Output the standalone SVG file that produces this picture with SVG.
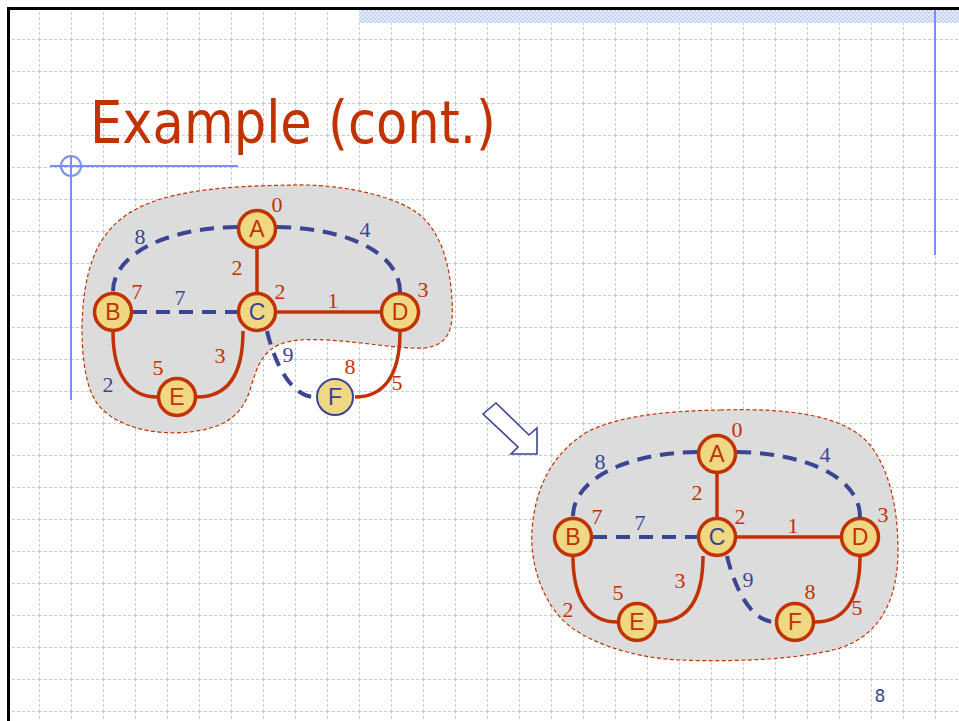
<svg xmlns="http://www.w3.org/2000/svg" width="959" height="721" viewBox="0 0 959 721">
<defs>
<style>
.grid{stroke:#BCCAF4;stroke-width:1;stroke-dasharray:3 2;fill:none}
.deco{stroke:#7A8FF0;stroke-width:2;fill:none}
.blob{fill:#DCDCDC;stroke:#C23200;stroke-width:1.2;stroke-dasharray:4 2.5}
.tree{stroke:#C23200;stroke-width:3.5;fill:none}
.non{stroke:#3B4594;stroke-width:4;fill:none;stroke-dasharray:14 9}
.nd{fill:#EFD784;stroke:#C23200;stroke-width:3.5}
.ndb{fill:#EFD784;stroke:#3B4594;stroke-width:2}
.lbl{font-family:"Liberation Sans","DejaVu Sans",sans-serif;font-size:23px;text-anchor:middle}
.w{font-family:"Liberation Serif","DejaVu Serif",serif;font-size:22px;text-anchor:middle}
.r{fill:#C23200}
.b{fill:#3B4594}
</style>
<pattern id="gridp" patternUnits="userSpaceOnUse" x="7" y="7" width="32" height="32">
<line class="grid" x1="0" y1="0.5" x2="32" y2="0.5"/>
<line class="grid" x1="0.5" y1="0" x2="0.5" y2="32"/>
</pattern>
<pattern id="chk" patternUnits="userSpaceOnUse" width="4" height="4">
<rect width="4" height="4" fill="#E6ECFC"/>
<rect width="2" height="2" fill="#C6D2F6"/>
<rect x="2" y="2" width="2" height="2" fill="#C6D2F6"/>
</pattern>
</defs>
<rect width="959" height="721" fill="#FFFFFF"/>
<rect x="8" y="8" width="951" height="713" fill="url(#gridp)"/>
<rect x="359" y="10" width="600" height="13" fill="url(#chk)"/>
<g id="frame">
<line x1="7" y1="8.5" x2="959" y2="8.5" stroke="#000" stroke-width="3"/>
<line x1="8.5" y1="7" x2="8.5" y2="721" stroke="#000" stroke-width="3"/>
</g>
<g id="decoration">
<line class="deco" x1="935" y1="10" x2="935" y2="255"/>
<line class="deco" x1="50" y1="166" x2="238" y2="166" stroke-width="1.5"/>
<circle class="deco" cx="71" cy="166" r="10" stroke-width="1.5"/>
<line class="deco" x1="71" y1="156" x2="71" y2="400"/>
</g>
<text id="title" x="90" y="143" font-family="DejaVu Sans, sans-serif" font-size="59" fill="#C23200" textLength="406" lengthAdjust="spacingAndGlyphs">Example (cont.)</text>

<!-- Graph 1 -->
<g id="graph1">
<path id="blob1" class="blob" d="M 293,185 C 340,184 395,195 420,215 C 440,232 450,262 452,300 C 454,330 448,345 425,348 C 395,350 340,337 300,340 C 262,343 258,365 250,390 C 242,415 225,428 190,432 C 150,436 110,425 95,400 C 80,375 80,320 85,290 C 92,245 110,222 140,207 C 180,188 240,186 293,185 Z"/>
<g id="g1-edges">
<path class="non" d="M 237,227 C 170,228 113,252 113,292"/>
<path class="non" d="M 277,227 C 345,228 400,252 400,292"/>
<path class="non" d="M 133,312 L 237,312"/>
<path class="non" d="M 267,331 C 275,365 292,397 315,397"/>
<path class="tree" d="M 257,249 L 257,292"/>
<path class="tree" d="M 277,312 L 380,312"/>
<path class="tree" d="M 113,332 C 113,378 132,397 157,397"/>
<path class="tree" d="M 243,331 C 243,378 225,397 197,397"/>
<path class="tree" d="M 400,332 C 400,378 382,397 355,397"/>
</g>
<g id="g1-A"><circle class="nd" cx="257" cy="229" r="18.5"/><text class="lbl r" x="257" y="237">A</text></g>
<g id="g1-B"><circle class="nd" cx="113" cy="312" r="18.5"/><text class="lbl r" x="113" y="320">B</text></g>
<g id="g1-C"><circle class="nd" cx="257" cy="312" r="18.5"/><text class="lbl b" x="257" y="320">C</text></g>
<g id="g1-D"><circle class="nd" cx="400" cy="312" r="18.5"/><text class="lbl r" x="400" y="320">D</text></g>
<g id="g1-E"><circle class="nd" cx="177" cy="397" r="18.5"/><text class="lbl r" x="177" y="405">E</text></g>
<g id="g1-F"><circle class="ndb" cx="335" cy="397" r="18"/><text class="lbl b" x="335" y="405">F</text></g>
<g id="g1-labels">
<text class="w r" x="277" y="212">0</text>
<text class="w b" x="140" y="244">8</text>
<text class="w b" x="365" y="237">4</text>
<text class="w r" x="237" y="275">2</text>
<text class="w r" x="137" y="299">7</text>
<text class="w b" x="180" y="305">7</text>
<text class="w r" x="280" y="299">2</text>
<text class="w r" x="333" y="308">1</text>
<text class="w r" x="423" y="297">3</text>
<text class="w b" x="288" y="362">9</text>
<text class="w r" x="350" y="374">8</text>
<text class="w r" x="397" y="390">5</text>
<text class="w r" x="158" y="375">5</text>
<text class="w r" x="220" y="363">3</text>
<text class="w b" x="108" y="392">2</text>
</g>
</g>

<g id="arrow">
<polygon points="483,414 496,403 529,435 537,428 537,454 511,454 518,447" fill="#FFFFFF" stroke="#3B4594" stroke-width="1.6" stroke-linejoin="miter"/>
</g>

<!-- Graph 2 -->
<path id="blob2" class="blob" d="M 720,410 C 790,408 845,415 870,445 C 890,470 898,510 898,550 C 898,600 880,635 840,648 C 800,660 730,662 680,660 C 630,658 580,640 560,617 C 540,595 530,560 532,530 C 535,490 550,455 587,432 C 620,415 670,411 720,410 Z"/>
<g id="graph2" transform="translate(460,225)">
<g id="g2-edges">
<path class="non" d="M 237,227 C 170,228 113,252 113,292"/>
<path class="non" d="M 277,227 C 345,228 400,252 400,292"/>
<path class="non" d="M 133,312 L 237,312"/>
<path class="non" d="M 267,331 C 275,365 292,397 315,397"/>
<path class="tree" d="M 257,249 L 257,292"/>
<path class="tree" d="M 277,312 L 380,312"/>
<path class="tree" d="M 113,332 C 113,378 132,397 157,397"/>
<path class="tree" d="M 243,331 C 243,378 225,397 197,397"/>
<path class="tree" d="M 400,332 C 400,378 382,397 355,397"/>
</g>
<g id="g2-A"><circle class="nd" cx="257" cy="229" r="18.5"/><text class="lbl r" x="257" y="237">A</text></g>
<g id="g2-B"><circle class="nd" cx="113" cy="312" r="18.5"/><text class="lbl r" x="113" y="320">B</text></g>
<g id="g2-C"><circle class="nd" cx="257" cy="312" r="18.5"/><text class="lbl b" x="257" y="320">C</text></g>
<g id="g2-D"><circle class="nd" cx="400" cy="312" r="18.5"/><text class="lbl r" x="400" y="320">D</text></g>
<g id="g2-E"><circle class="nd" cx="177" cy="397" r="18.5"/><text class="lbl r" x="177" y="405">E</text></g>
<g id="g2-F"><circle class="nd" cx="335" cy="397" r="18.5"/><text class="lbl r" x="335" y="405">F</text></g>
<g id="g2-labels">
<text class="w r" x="277" y="212">0</text>
<text class="w b" x="140" y="244">8</text>
<text class="w b" x="365" y="237">4</text>
<text class="w r" x="237" y="275">2</text>
<text class="w r" x="137" y="299">7</text>
<text class="w b" x="180" y="305">7</text>
<text class="w r" x="280" y="299">2</text>
<text class="w r" x="333" y="308">1</text>
<text class="w r" x="423" y="297">3</text>
<text class="w b" x="288" y="362">9</text>
<text class="w r" x="350" y="374">8</text>
<text class="w r" x="397" y="390">5</text>
<text class="w r" x="158" y="375">5</text>
<text class="w r" x="220" y="363">3</text>
<text class="w r" x="108" y="392">2</text>
</g>
</g>

<text id="page" x="880" y="702" font-family="DejaVu Sans, sans-serif" font-size="17" fill="#3B4594" text-anchor="middle">8</text>
</svg>
